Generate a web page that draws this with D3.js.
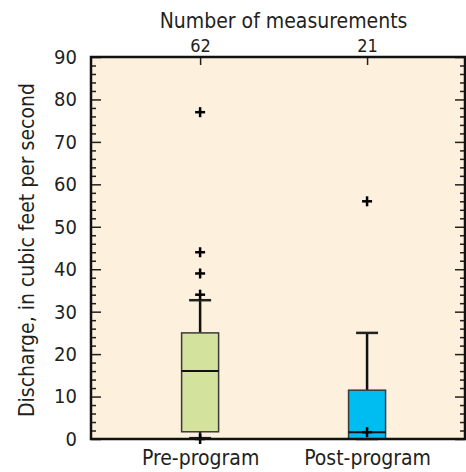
<!DOCTYPE html>
<html>
<head>
<meta charset="utf-8">
<script src="https://cdn.jsdelivr.net/npm/d3@7"></script>
<style>
  body { margin: 0; background: #fff; }
  svg { display: block; }
  text { font-family: "Liberation Sans Narrow", "DejaVu Sans Condensed", "Arial Narrow", sans-serif; fill: #231f20; }
</style>
</head>
<body>
<div class="chart"></div>
<script>
// data
const categories = ["Pre-program", "Post-program"];
const counts = [62, 21];
const q1 = [1.7, 0];
const medians = [16, 1.6];
const q3 = [25, 11.5];
const whiskerLow = [0.2, 0];
const whiskerHigh = [32.7, 25];
const outliers = [[0, 34, 39, 44, 77], [1.6, 56]];
const fills = ["#d3e29c", "#00bdf1"];
const yTicks = [0, 10, 20, 30, 40, 50, 60, 70, 80, 90];

const width = 466;
const height = 472;
const margin = { top: 57, right: 1, bottom: 33, left: 91 };
const innerW = width - margin.left - margin.right;
const innerH = height - margin.top - margin.bottom;

const svg = d3
  .select(".chart")
  .append("svg")
  .attr("width", width)
  .attr("height", height);

const g = svg
  .append("g")
  .attr("transform", "translate(" + margin.left + "," + margin.top + ")");

const x = d3
  .scalePoint()
  .domain(categories)
  .range([0, innerW])
  .padding(0.62)
  .align(0.527);

const y = d3.scaleLinear().domain([0, 90]).range([innerH, 0]);

// background
g.append("rect")
  .attr("width", innerW)
  .attr("height", innerH)
  .attr("fill", "#fdf0dc");

// minor + major ticks, both sides, pointing inward
const minor = d3.range(0, 91, 2).filter(v => v % 10 !== 0);
g.append("g")
  .call(d3.axisLeft(y).tickValues(minor).tickSize(-5).tickFormat(""))
  .call(s => s.select(".domain").remove())
  .call(s => s.selectAll("line").attr("stroke", "#231f20").attr("stroke-width", 1.5));
g.append("g")
  .attr("class", "y-axis")
  .call(d3.axisLeft(y).tickValues(yTicks).tickSize(-10).tickPadding(14))
  .call(s => s.select(".domain").remove())
  .call(s => s.selectAll("line").attr("stroke", "#231f20").attr("stroke-width", 1.5))
  .call(s => s.selectAll("text").style("font-size", "20px"));
g.append("g")
  .attr("transform", "translate(" + innerW + ",0)")
  .call(d3.axisRight(y).tickValues(minor).tickSize(-5).tickFormat(""))
  .call(s => s.select(".domain").remove())
  .call(s => s.selectAll("line").attr("stroke", "#231f20").attr("stroke-width", 1.5));
g.append("g")
  .attr("transform", "translate(" + innerW + ",0)")
  .call(d3.axisRight(y).tickValues(yTicks).tickSize(-10).tickFormat(""))
  .call(s => s.select(".domain").remove())
  .call(s => s.selectAll("line").attr("stroke", "#231f20").attr("stroke-width", 1.5));

// top axis with counts
g.append("g")
  .call(
    d3.axisTop(x).tickSize(-8).tickPadding(5)
      .tickFormat((d, i) => counts[i])
  )
  .call(s => s.select(".domain").remove())
  .call(s => s.selectAll("line").attr("stroke", "#231f20").attr("stroke-width", 1.5))
  .call(s => s.selectAll("text").style("font-size", "18px").attr("dy", "0"));

// bottom axis with category names
g.append("g")
  .attr("transform", "translate(0," + innerH + ")")
  .call(d3.axisBottom(x).tickSize(0).tickPadding(11))
  .call(s => s.select(".domain").remove())
  .call(s => s.selectAll("text").style("font-size", "21px"));

const boxW = 37;
const capW = 22;
const cats = categories.map((c, i) => ({ name: c, i: i }));

const box = g.selectAll(".box").data(cats).enter().append("g").attr("class", "box");

// whiskers
box.append("line")
  .attr("x1", d => x(d.name)).attr("x2", d => x(d.name))
  .attr("y1", d => y(q3[d.i])).attr("y2", d => y(whiskerHigh[d.i]))
  .attr("stroke", "#111").attr("stroke-width", 2.5);
box.append("line")
  .attr("x1", d => x(d.name)).attr("x2", d => x(d.name))
  .attr("y1", d => y(q1[d.i])).attr("y2", d => y(whiskerLow[d.i]))
  .attr("stroke", "#111").attr("stroke-width", 2.5);
box.append("line")
  .attr("x1", d => x(d.name) - capW / 2).attr("x2", d => x(d.name) + capW / 2)
  .attr("y1", d => y(whiskerHigh[d.i])).attr("y2", d => y(whiskerHigh[d.i]))
  .attr("stroke", "#222").attr("stroke-width", 2.5);
box.append("line")
  .attr("x1", d => x(d.name) - capW / 2).attr("x2", d => x(d.name) + capW / 2)
  .attr("y1", d => y(whiskerLow[d.i])).attr("y2", d => y(whiskerLow[d.i]))
  .attr("stroke", "#222").attr("stroke-width", 2.5);

// boxes
box.append("rect")
  .attr("x", d => x(d.name) - boxW / 2)
  .attr("width", boxW)
  .attr("y", d => y(q3[d.i]))
  .attr("height", d => y(q1[d.i]) - y(q3[d.i]))
  .attr("fill", d => fills[d.i])
  .attr("stroke", "#3a3a3a")
  .attr("stroke-width", 1.5);

box.append("line")
  .attr("x1", d => x(d.name) - boxW / 2).attr("x2", d => x(d.name) + boxW / 2)
  .attr("y1", d => y(medians[d.i])).attr("y2", d => y(medians[d.i]))
  .attr("stroke", "#111").attr("stroke-width", 2);

// outliers as plus signs
const pts = [];
outliers.forEach((arr, i) => arr.forEach(v => pts.push({ name: categories[i], v: v })));
const plus = g.selectAll(".out").data(pts).enter().append("g")
  .attr("transform", d => "translate(" + x(d.name) + "," + y(d.v) + ")");
plus.append("line").attr("x1", -5).attr("x2", 5).attr("stroke", "#000").attr("stroke-width", 2.5);
plus.append("line").attr("y1", -5).attr("y2", 5).attr("stroke", "#000").attr("stroke-width", 2.5);

// frame
g.append("rect")
  .attr("width", innerW)
  .attr("height", innerH)
  .attr("fill", "none")
  .attr("stroke", "#111")
  .attr("stroke-width", 2.5);

// titles
svg.append("text")
  .attr("x", margin.left + x(categories[0]) + (x(categories[1]) - x(categories[0])) / 2)
  .attr("y", 28)
  .attr("text-anchor", "middle")
  .style("font-size", "21px")
  .text("Number of measurements");

svg.append("text")
  .attr("transform", "translate(34," + (margin.top + innerH / 2 + 2) + ") rotate(-90)")
  .attr("text-anchor", "middle")
  .style("font-size", "21px")
  .text("Discharge, in cubic feet per second");
</script>
</body>
</html>
